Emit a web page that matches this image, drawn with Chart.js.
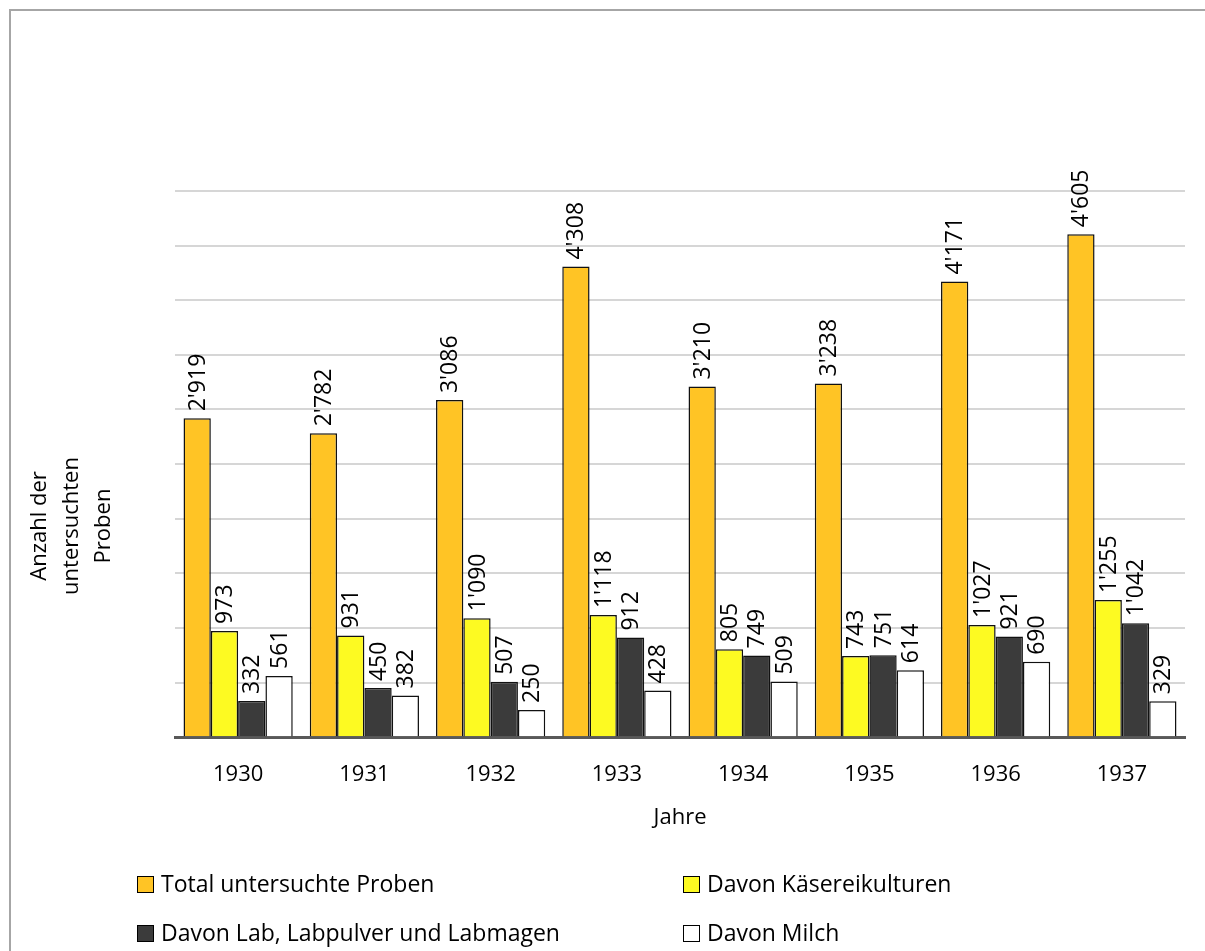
<!DOCTYPE html>
<html>
<head>
<meta charset="utf-8">
<script src="https://cdn.jsdelivr.net/npm/chart.js@4.4.0/dist/chart.umd.min.js"></script>
<style>
  body { margin: 0; background: #fff; font-family: 'Open Sans', sans-serif; }
  #wrap { position: relative; width: 1205px; height: 951px; overflow: hidden; }
  #frame { position: absolute; left: 9px; top: 9px; width: 1400px; height: 1200px; border: 2px solid #a6a6a6; }
  #chart { position: absolute; left: 0; top: 0; }
  .leg { position: absolute; font-size: 23px; color: #000; white-space: nowrap; line-height: 24px; }
  .leg span.box { display: inline-block; width: 15px; height: 15px; border: 1px solid #000; margin-right: 7px; vertical-align: -1px; }
</style>
</head>
<body>
<div id="wrap">
  <div id="frame"></div>
  <canvas id="chart" width="1205" height="951"></canvas>
  <div id="legend"></div>
</div>
<script>
const years = ['1930', '1931', '1932', '1933', '1934', '1935', '1936', '1937'];
const totalProben = [2919, 2782, 3086, 4308, 3210, 3238, 4171, 4605];
const kaesereikulturen = [973, 931, 1090, 1118, 805, 743, 1027, 1255];
const labProben = [332, 450, 507, 912, 749, 751, 921, 1042];
const milchProben = [561, 382, 250, 428, 509, 614, 690, 329];
const seriesNames = ['Total untersuchte Proben', 'Davon Käsereikulturen', 'Davon Lab, Labpulver und Labmagen', 'Davon Milch'];
const seriesColors = ['#ffc425', '#fdfa22', '#3b3b3b', '#ffffff'];
const yTitle = ['Anzahl der', 'untersuchten', 'Proben'];

function fmt(v) {
  return String(v).replace(/\B(?=(\d{3})+(?!\d))/g, "'");
}

// value labels, rotated, above each bar
const barLabels = {
  id: 'barLabels',
  afterDatasetsDraw(chart) {
    const ctx = chart.ctx;
    ctx.save();
    ctx.font = "23px 'Open Sans'";
    ctx.fillStyle = '#000';
    ctx.textAlign = 'left';
    ctx.textBaseline = 'middle';
    chart.data.datasets.forEach((ds, i) => {
      chart.getDatasetMeta(i).data.forEach((bar, j) => {
        ctx.save();
        ctx.translate(bar.x + 1, bar.y - 7);
        ctx.rotate(-Math.PI / 2);
        ctx.fillText(fmt(ds.data[j]), 0, 0);
        ctx.restore();
      });
    });
    ctx.restore();
  }
};

// three-line rotated y axis title
const yAxisTitle = {
  id: 'yAxisTitle',
  afterDraw(chart) {
    const ctx = chart.ctx;
    ctx.save();
    ctx.font = "22px 'Open Sans'";
    ctx.fillStyle = '#000';
    ctx.textAlign = 'center';
    ctx.textBaseline = 'middle';
    ctx.translate(72, 526);
    ctx.rotate(-Math.PI / 2);
    yTitle.forEach((line, k) => ctx.fillText(line, 0, (k - 1) * 32));
    ctx.restore();
  }
};

const allData = [totalProben, kaesereikulturen, labProben, milchProben];

new Chart(document.getElementById('chart'), {
  type: 'bar',
  data: {
    labels: years,
    datasets: allData.map((d, i) => ({
      label: seriesNames[i],
      data: d,
      backgroundColor: seriesColors[i],
      borderColor: '#111',
      borderWidth: 1.5,
      categoryPercentage: 0.865,
      barPercentage: 1
    }))
  },
  options: {
    responsive: false,
    animation: false,
    layout: { padding: { left: 175, right: 20, top: 191, bottom: 120 } },
    plugins: { legend: { display: false }, tooltip: { enabled: false } },
    scales: {
      x: {
        grid: { display: true, drawOnChartArea: false, drawTicks: false },
        border: { display: true, color: '#595959', width: 3 },
        ticks: { color: '#000', font: { family: 'Open Sans', size: 22 }, padding: 24 },
        title: { display: true, text: 'Jahre', color: '#000', font: { family: 'Open Sans', size: 22 }, padding: { top: -7, bottom: 0 } }
      },
      y: {
        min: 0,
        max: 5000,
        ticks: { display: false, stepSize: 500 },
        grid: { color: '#d6d6d6', lineWidth: 2, drawTicks: false },
        border: { display: false }
      }
    }
  },
  plugins: [barLabels, yAxisTitle]
});

// two-column legend
const legPos = [[137, 871], [683, 871], [137, 920], [683, 920]];
const legend = document.getElementById('legend');
seriesNames.forEach((name, i) => {
  const el = document.createElement('div');
  el.className = 'leg';
  el.style.left = legPos[i][0] + 'px';
  el.style.top = legPos[i][1] + 'px';
  el.innerHTML = '<span class="box" style="background:' + seriesColors[i] + '"></span>' + name;
  legend.appendChild(el);
});
</script>
</body>
</html>
